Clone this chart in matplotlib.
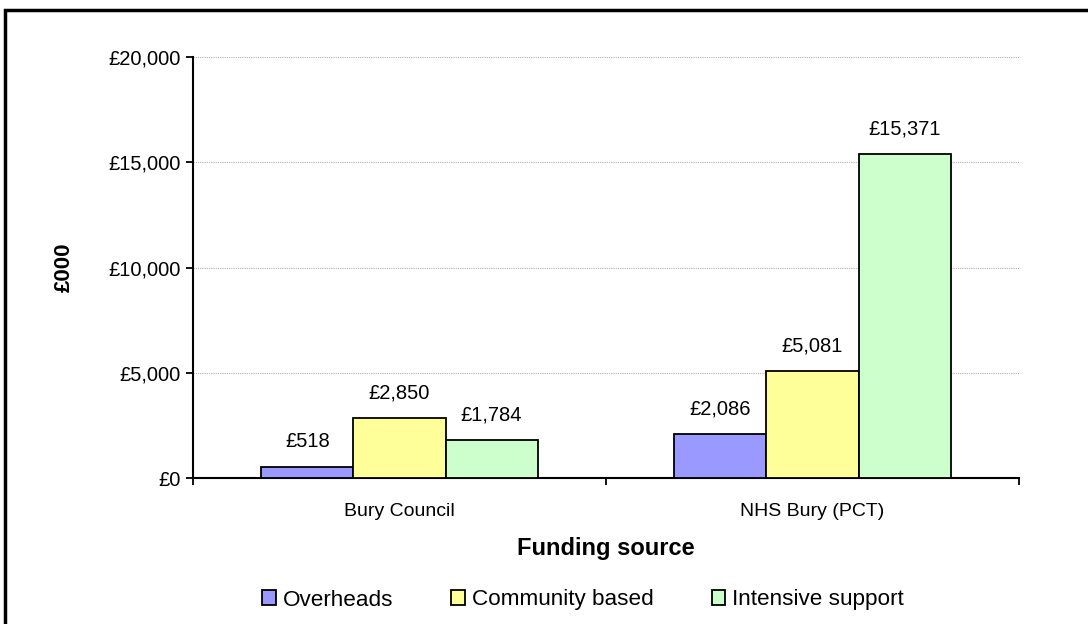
import numpy as np
import matplotlib
matplotlib.use("Agg")
import matplotlib.pyplot as plt
from matplotlib.patches import Rectangle
import matplotlib.ticker as ticker

plt.rcParams["font.family"] = ["Liberation Sans", "DejaVu Sans"]

# ---- data ----
categories = ["Bury Council", "NHS Bury (PCT)"]
series_names = ["Overheads", "Community based", "Intensive support"]
overheads = [518, 2086]
community = [2850, 5081]
intensive = [1784, 15371]
colors = ["#9999FF", "#FFFF99", "#CCFFCC"]

fig = plt.figure(figsize=(10.88, 6.24), dpi=100)
ax = fig.add_axes([193 / 1088, 1 - 478 / 624, (1019 - 193) / 1088, (478 - 57) / 624])

x = np.arange(len(categories))
width = 0.223
for i, (vals, name, col) in enumerate(zip([overheads, community, intensive], series_names, colors)):
    pos = x + (i - 1) * width
    bars = ax.bar(pos, vals, width, color=col, edgecolor="black", linewidth=1.3,
                  label=name, zorder=3)
    for b, v in zip(bars, vals):
        ax.annotate(f"£{v:,}", (b.get_x() + b.get_width() / 2, v),
                    xytext=(0, 11.5), textcoords="offset points",
                    ha="center", va="bottom", fontsize=14.5)

ax.set_xlim(-0.5, 1.5)
ax.set_ylim(0, 20000)
ax.yaxis.set_major_locator(ticker.MultipleLocator(5000))
ax.yaxis.set_major_formatter(ticker.FuncFormatter(lambda v, _: f"£{v:,.0f}"))
ax.grid(axis="y", color="#b0b0b0", linestyle=(0, (1, 1)), linewidth=0.8, zorder=0)

ax.set_xticks([-0.5, 0.5, 1.5])
ax.set_xticklabels([])
ax.set_xticks(x, minor=True)
ax.set_xticklabels(categories, minor=True, fontsize=14)
ax.tick_params(axis="x", which="minor", length=0, pad=18)
ax.tick_params(axis="x", which="major", length=5, width=1.3, direction="out")
ax.tick_params(axis="y", length=5, width=1.3, direction="out", labelsize=14.5, pad=4)

for s in ["top", "right"]:
    ax.spines[s].set_visible(False)
for s in ["left", "bottom"]:
    ax.spines[s].set_linewidth(1.5)

ax.set_ylabel("£000", fontsize=16, fontweight="bold", labelpad=24)
ax.set_xlabel("Funding source", fontsize=17, fontweight="bold", labelpad=12)

leg = fig.legend(loc="center", bbox_to_anchor=(583 / 1088, 1 - 600 / 624), ncol=3,
                 frameon=False, fontsize=16.2, handlelength=0.6, handleheight=0.6,
                 columnspacing=2.6, handletextpad=0.3)

# outer border
fig.patches.append(Rectangle((5 / 1088, -0.05), 1.1, 1 - 10 / 624 + 0.05,
                             transform=fig.transFigure, fill=False,
                             edgecolor="black", linewidth=2.5))

fig.savefig("out.png", dpi=100)
